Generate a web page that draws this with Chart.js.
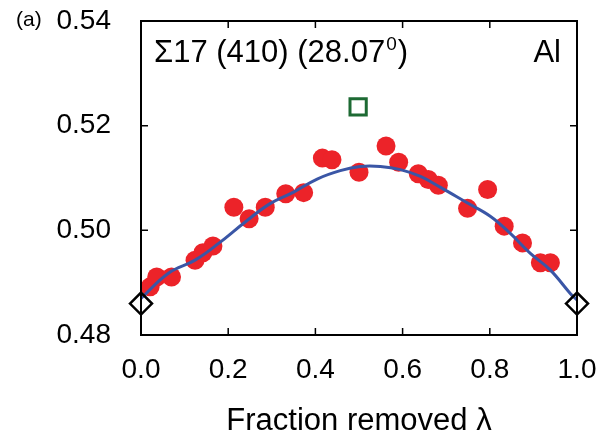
<!DOCTYPE html>
<html lang="en">
	<head>
		<meta charset="UTF-8" />
		<title>Fraction removed</title>
		<script src="https://cdn.jsdelivr.net/npm/chart.js@4.4.3/dist/chart.umd.min.js"></script>
		<style>
			html, body {
				margin: 0;
				padding: 0;
				background: #fff;
			}
			.container {
				width: 611px;
				height: 435px;
			}
		</style>
	</head>
	<body>
		<div class="container">
			<canvas id="lambdaChart" width="611" height="435"></canvas>
		</div>

		<script>
			// red points (simulations)
			const simX = [0.021, 0.036, 0.070, 0.124, 0.142, 0.165, 0.213, 0.248, 0.285, 0.332, 0.373, 0.416, 0.438, 0.500, 0.562, 0.591, 0.636, 0.659, 0.682, 0.749, 0.795, 0.833, 0.875, 0.916, 0.939];
			const simY = [0.4892, 0.4911, 0.4911, 0.4943, 0.4957, 0.4970, 0.5044, 0.5022, 0.5044, 0.5070, 0.5072, 0.5138, 0.5135, 0.5111, 0.5161, 0.5130, 0.5108, 0.5097, 0.5086, 0.5042, 0.5078, 0.5008, 0.4976, 0.4938, 0.4938];

			// blue fit line
			const fitX = [0.0, 0.063, 0.124, 0.178, 0.239, 0.296, 0.350, 0.404, 0.457, 0.503, 0.549, 0.595, 0.641, 0.687, 0.745, 0.801, 0.847, 0.893, 0.939, 0.985, 1.0];
			const fitY = [0.4870, 0.4918, 0.4943, 0.4975, 0.5016, 0.5051, 0.5073, 0.5098, 0.5114, 0.5122, 0.5122, 0.5116, 0.5103, 0.5082, 0.5054, 0.5027, 0.4994, 0.4956, 0.4924, 0.4879, 0.4867];

			// end points (diamonds) and the square
			const endX = [0.0, 1.0];
			const endY = [0.4860, 0.4860];
			const sqX = [0.498];
			const sqY = [0.5236];

			const xTicks = [0.0, 0.2, 0.4, 0.6, 0.8, 1.0];
			const yTicks = [0.48, 0.50, 0.52, 0.54];

			const FONT = "'Liberation Sans', Arial, Helvetica, sans-serif";

			const pts = (xs, ys) => xs.map((x, i) => ({ x: x, y: ys[i] }));

			// frame with inward ticks, plus the text in the corners
			const framePlugin = {
				id: "frame",
				afterDatasetsDraw(chart) {
					const { ctx, chartArea: a, scales } = chart;
					const len = 7;
					ctx.save();
					ctx.strokeStyle = "#000";
					ctx.lineWidth = 2;
					ctx.strokeRect(a.left, a.top, a.right - a.left, a.bottom - a.top);
					ctx.lineWidth = 1.5;
					ctx.beginPath();
					xTicks.forEach((v) => {
						const px = scales.x.getPixelForValue(v);
						ctx.moveTo(px, a.bottom);
						ctx.lineTo(px, a.bottom - len);
						ctx.moveTo(px, a.top);
						ctx.lineTo(px, a.top + len);
					});
					yTicks.forEach((v) => {
						const py = scales.y.getPixelForValue(v);
						ctx.moveTo(a.left, py);
						ctx.lineTo(a.left + len, py);
						ctx.moveTo(a.right, py);
						ctx.lineTo(a.right - len, py);
					});
					ctx.stroke();
					ctx.restore();
				},
				afterDraw(chart) {
					const { ctx, chartArea: a } = chart;
					ctx.save();
					ctx.fillStyle = "#000";
					ctx.textBaseline = "alphabetic";

					ctx.font = "21px " + FONT;
					ctx.textAlign = "left";
					ctx.fillText("(a)", 16, 26);

					ctx.font = "31px " + FONT;
					let x = a.left + 13;
					const base = 62;
					const main = "\u03A317 (410) (28.07";
					ctx.fillText(main, x, base);
					x += ctx.measureText(main).width;
					ctx.font = "19px " + FONT;
					ctx.fillText("0", x + 1, base - 12);
					x += ctx.measureText("0").width + 2;
					ctx.font = "31px " + FONT;
					ctx.fillText(")", x, base);

					ctx.textAlign = "right";
					ctx.fillText("Al", a.right - 16, base);
					ctx.restore();
				},
			};

			const ctx = document.getElementById("lambdaChart").getContext("2d");

			const lambdaChart = new Chart(ctx, {
				type: "scatter",
				data: {
					datasets: [
						{
							type: "line",
							label: "fit",
							data: pts(fitX, fitY),
							borderColor: "#3a56a6",
							borderWidth: 3,
							pointRadius: 0,
							tension: 0.4,
							fill: false,
							order: 3,
						},
						{
							label: "removed",
							data: pts(simX, simY),
							backgroundColor: "#ec2329",
							borderWidth: 0,
							pointRadius: 9.5,
							order: 4,
						},
						{
							label: "ends",
							data: pts(endX, endY),
							pointStyle: "rectRot",
							backgroundColor: "rgba(255,255,255,0)",
							borderColor: "#000",
							borderWidth: 2.5,
							pointRadius: 11,
							clip: false,
							order: 1,
						},
						{
							label: "square",
							data: pts(sqX, sqY),
							pointStyle: "rect",
							backgroundColor: "#fff",
							borderColor: "#1d6a33",
							borderWidth: 3,
							pointRadius: 11.5,
							order: 2,
						},
					],
				},
				options: {
					responsive: false,
					animation: false,
					events: [],
					layout: {
						padding: { left: 0, right: 34, top: 21, bottom: 0 },
					},
					plugins: {
						legend: { display: false },
						tooltip: { enabled: false },
					},
					scales: {
						x: {
							type: "linear",
							min: 0,
							max: 1,
							grid: { display: false },
							border: { display: false },
							afterBuildTicks: (scale) => {
								scale.ticks = xTicks.map((v) => ({ value: v }));
							},
							afterFit: (scale) => {
								scale.height = 100;
								scale.paddingLeft = 0;
								scale.paddingRight = 0;
							},
							ticks: {
								color: "#000",
								padding: 10,
								font: { family: FONT, size: 28 },
								callback: (v) => v.toFixed(1),
							},
							title: {
								display: true,
								text: "Fraction removed \u03BB",
								color: "#000",
								font: { family: FONT, size: 31, lineHeight: 0.9 },
								padding: { top: 0, bottom: 0 },
							},
						},
						y: {
							type: "linear",
							min: 0.48,
							max: 0.54,
							grid: { display: false },
							border: { display: false },
							afterBuildTicks: (scale) => {
								scale.ticks = yTicks.map((v) => ({ value: v }));
							},
							afterFit: (scale) => {
								scale.width = 141;
								scale.paddingTop = 0;
								scale.paddingBottom = 0;
							},
							ticks: {
								color: "#000",
								padding: 22,
								font: { family: FONT, size: 28 },
								callback: (v) => v.toFixed(2),
							},
						},
					},
				},
				plugins: [framePlugin],
			});
		</script>
	</body>
</html>
